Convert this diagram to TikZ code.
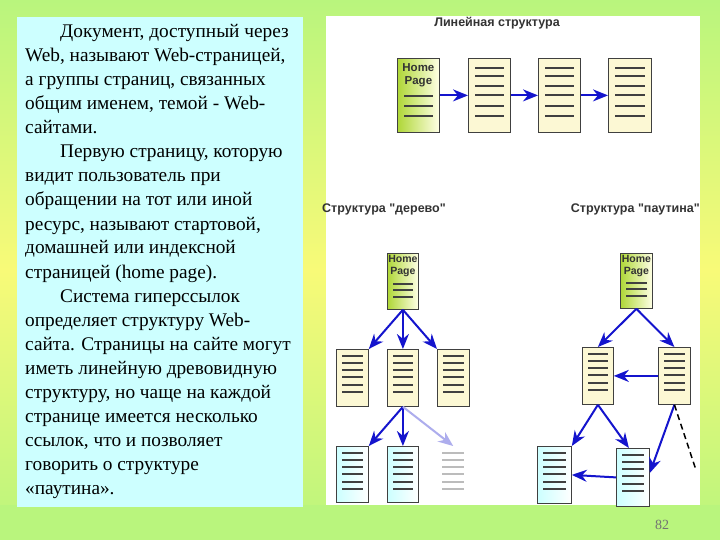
\documentclass[tikz,border=0pt]{standalone}
\usepackage{fontspec}
\setmainfont{Liberation Serif}
\newfontfamily\sansb{Liberation Sans}
\usetikzlibrary{arrows.meta}
\definecolor{bgg}{RGB}{185,245,125}
\definecolor{bgy}{RGB}{248,250,120}
\definecolor{cyanp}{RGB}{205,255,255}
\definecolor{beige}{RGB}{252,248,212}
\definecolor{arr}{RGB}{20,20,205}
\definecolor{hpg}{RGB}{175,215,55}
\tikzset{
 doc/.style={draw=black!75, line width=0.8pt, inner sep=0pt, anchor=north west},
 pg/.style={doc, fill=beige},
 hp/.style={doc, left color=hpg, right color=yellow!10},
 lp/.style={doc, left color=cyan!20, right color=white},
 docline/.style={line width=1.4pt, black!75},
 link/.style={-{Stealth[length=15pt,width=12pt]}, line width=2pt, arr},
 txt/.style={anchor=base west, inner sep=0pt, font=\fontsize{19.3}{20}\selectfont},
 ttl/.style={font=\sansb\bfseries\fontsize{12.5}{13}\selectfont, text=black!80, inner sep=0pt},
 hpt/.style={font=\sansb\bfseries\fontsize{10.5}{12}\selectfont, align=center, inner sep=0pt, anchor=north, text=black!80}
}
\newcommand{\dlines}[3]{\foreach \d in {#2}{\draw[docline] ([xshift=#3pt,yshift=-\d pt]#1.north west) -- ([xshift=-#3pt,yshift=-\d pt]#1.north east);}}
\begin{document}
\begin{tikzpicture}[x=1pt,y=-1pt]
\useasboundingbox (0,0) rectangle (720,540);
\shade[top color=bgg, bottom color=bgg, middle color=bgy] (0,0) rectangle (720,540);
\fill[bgg] (0,505) rectangle (720,540);
\fill[cyanp] (17,17) rectangle (303,507);
\fill[white] (326,16) rectangle (700,505);
% text
\node[txt] (t1) at (60,38) {Документ, доступный через};
\node[txt] (t2) at (25,62) {Web, называют Web-страницей,};
\node[txt] (t3) at (25,86) {а группы страниц, связанных};
\node[txt] (t4) at (25,110) {общим именем, темой - Web-};
\node[txt] (t5) at (25,134) {сайтами.};
\node[txt] (t6) at (60,158) {Первую страницу, которую};
\node[txt] (t7) at (25,182) {видит пользователь при};
\node[txt] (t8) at (25,206) {обращении на тот или иной};
\node[txt] (t9) at (25,230) {ресурс, называют стартовой,};
\node[txt] (t10) at (25,254) {домашней или индексной};
\node[txt] (t11) at (25,278) {страницей (home page).};
\node[txt] (t12) at (60,302) {Система гиперссылок};
\node[txt] (t13) at (25,326) {определяет структуру Web-};
\node[txt] (t14) at (25,350) {сайта. Страницы на сайте могут};
\node[txt] (t15) at (25,374) {иметь линейную древовидную};
\node[txt] (t16) at (25,398) {структуру, но чаще на каждой};
\node[txt] (t17) at (25,422) {странице имеется несколько};
\node[txt] (t18) at (25,446) {ссылок, что и позволяет};
\node[txt] (t19) at (25,470) {говорить о структуре};
\node[txt] (t20) at (25,494) {«паутина».};
% titles
\node[ttl] (h1) at (497,23) {Линейная  структура};
\node[ttl, anchor=west] (h2) at (322,209) {Структура "дерево"};
\node[ttl, anchor=east] (h3) at (700,209) {Структура "паутина"};
% linear
\node[hp, minimum width=42, minimum height=74] (l0) at (397,58) {};
\node[hpt, font=\sansb\bfseries\fontsize{11.5}{13}\selectfont] (l0t) at ([yshift=-5pt]l0.north) {Home\\Page};
\dlines{l0}{38,48,58}{7}
\node[pg, minimum width=42, minimum height=74] (l1) at (468,58) {};
\node[pg, minimum width=42, minimum height=74] (l2) at (538,58) {};
\node[pg, minimum width=43, minimum height=74] (l3) at (608,58) {};
\foreach \n in {l1,l2,l3}{\dlines{\n}{10,18,28,37,48,58}{7}}
\draw[link] (l0.east) -- (l1.west);
\draw[link] (l1.east) -- (l2.west);
\draw[link] (l2.east) -- (l3.west);
% tree
\node[hp, minimum width=31, minimum height=56] (a0) at (387,253) {};
\node[hpt] (a0t) at ([yshift=-2pt]a0.north) {Home\\Page};
\dlines{a0}{31,37,44}{6}
\node[pg, minimum width=32, minimum height=57] (a1) at (336,349) {};
\node[pg, minimum width=31, minimum height=57] (a2) at (387,349) {};
\node[pg, minimum width=32, minimum height=57] (a3) at (437,349) {};
\node[lp, minimum width=32, minimum height=56] (a4) at (336,446) {};
\node[lp, minimum width=31, minimum height=56] (a5) at (387,446) {};
\node[draw=none, inner sep=0pt, anchor=north west, minimum width=26, minimum height=56] (a6) at (440,446) {};
\foreach \n in {a1,a2,a3,a4,a5}{\dlines{\n}{7,14,21,28,36,43}{6}}
\begin{scope}[opacity=0.35]
\dlines{a6}{7,14,21,28,36,43}{2}
\end{scope}
\draw[link] (a0.south) -- (a1.north east);
\draw[link] (a0.south) -- (a2.north);
\draw[link] (a0.south) -- (a3.north west);
\draw[link] (a2.south) -- (a4.north east);
\draw[link] (a2.south) -- (a5.north);
\draw[link, arr!35] (a2.south) -- (a6.north);
% web
\node[hp, minimum width=32, minimum height=55] (w0) at (620,253) {};
\node[hpt] (w0t) at ([yshift=-2pt]w0.north) {Home\\Page};
\dlines{w0}{30,36,43}{6}
\node[pg, minimum width=31, minimum height=57] (w1) at (582,347) {};
\node[pg, minimum width=32, minimum height=57] (w2) at (658,347) {};
\node[lp, minimum width=34, minimum height=57] (w3) at (537,446) {};
\node[lp, minimum width=33, minimum height=58] (w4) at (616,448) {};
\foreach \n in {w1,w2,w3,w4}{\dlines{\n}{7,14,21,28,36,43}{6}}
\draw[link] (w0.south) -- (w1.north);
\draw[link] (w0.south) -- (w2.north);
\draw[link] (w2.west) -- (w1.east);
\draw[link] (w1.south) -- (w3.north east);
\draw[link] (w1.south) -- ([xshift=-4pt]w4.north);
\draw[link] (w2.south) -- ([yshift=-25pt]w4.north east);
\coordinate (wd) at (696,470);
\draw[line width=1.5pt, dash pattern=on 6pt off 4pt] (w2.south) -- (wd);
\draw[link] (w4.west) -- (w3.east);
\node[font=\fontsize{14}{15}\selectfont, text=black!55] (pn) at (662,525) {82};
\end{tikzpicture}
\end{document}
